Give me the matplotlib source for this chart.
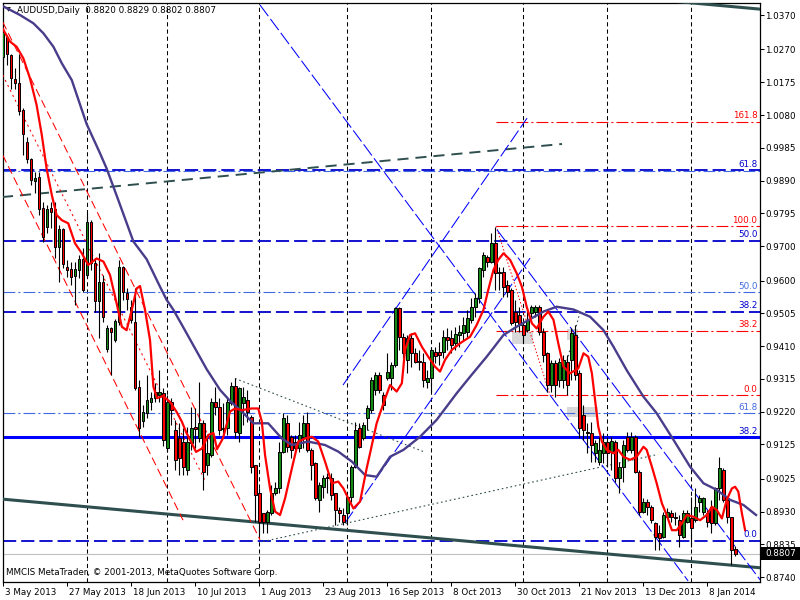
import matplotlib
matplotlib.use("Agg")
import matplotlib.pyplot as plt
from matplotlib.patches import Rectangle
import matplotlib.transforms as mtransforms

plt.rcParams['font.family'] = ['DejaVu Sans']
plt.rcParams['lines.scale_dashes'] = False

# ---------------- data ----------------
title_text = "AUDUSD,Daily  0.8820 0.8829 0.8802 0.8807"
copyright_text = "MMCIS MetaTrader, \u00a9 2001-2013, MetaQuotes Software Corp."
last_price = 0.8807

date_labels = ["3 May 2013", "27 May 2013", "18 Jun 2013", "10 Jul 2013", "1 Aug 2013",
               "23 Aug 2013", "16 Sep 2013", "8 Oct 2013", "30 Oct 2013", "21 Nov 2013",
               "13 Dec 2013", "8 Jan 2014"]
date_label_bars = [0, 16, 32, 48, 64, 80, 96, 112, 128, 144, 160, 176]
month_start_bars = [21, 41, 64, 86, 107, 130, 151, 172]
price_ticks = [1.0370, 1.0270, 1.0175, 1.0080, 0.9985, 0.9890, 0.9795, 0.9700, 0.9600,
               0.9505, 0.9410, 0.9315, 0.9220, 0.9125, 0.9025, 0.8930, 0.8835, 0.8740]

opens = [1.0249, 1.0307, 1.0254, 1.0184, 1.0173, 1.0094, 1.0003, 0.9952, 0.9889, 0.9900,
         0.9810, 0.9756, 0.9810, 0.9807, 0.9698, 0.9749, 0.9640, 0.9633, 0.9614, 0.9631,
         0.9662, 0.9616, 0.9769, 0.9651, 0.9542, 0.9597, 0.9401, 0.9461, 0.9428, 0.9481,
         0.9640, 0.9563, 0.9524, 0.9481, 0.9292, 0.9193, 0.9216, 0.9248, 0.9258, 0.9268,
         0.9274, 0.9114, 0.9248, 0.9167, 0.9143, 0.9133, 0.9051, 0.9128, 0.9176, 0.9142,
         0.9186, 0.9065, 0.9094, 0.9249, 0.9234, 0.9171, 0.9171, 0.9244, 0.9295, 0.9157,
         0.9244, 0.9254, 0.9205, 0.9065, 0.8983, 0.8925, 0.8901, 0.8925, 0.8983, 0.8997,
         0.9104, 0.9186, 0.9147, 0.9133, 0.9113, 0.9147, 0.9186, 0.9109, 0.9070, 0.8964,
         0.9002, 0.9031, 0.9026, 0.8983, 0.8935, 0.8920, 0.8925, 0.8973, 0.9060, 0.9171,
         0.9142, 0.9200, 0.9225, 0.9283, 0.9326, 0.9268, 0.9316, 0.9316, 0.9355, 0.9519,
         0.9437, 0.9370, 0.9432, 0.9389, 0.9367, 0.9365, 0.9307, 0.9316, 0.9394, 0.9394,
         0.9394, 0.9437, 0.9432, 0.9418, 0.9442, 0.9447, 0.9452, 0.9486, 0.9524, 0.9548,
         0.9631, 0.9669, 0.9655, 0.9708, 0.9621, 0.9626, 0.9587, 0.9573, 0.9510, 0.9500,
         0.9471, 0.9457, 0.9505, 0.9510, 0.9524, 0.9452, 0.9389, 0.9297, 0.9360, 0.9312,
         0.9312, 0.9364, 0.9370, 0.9442, 0.9332, 0.9210, 0.9162, 0.9157, 0.9100, 0.9075,
         0.9101, 0.9133, 0.9104, 0.9133, 0.9026, 0.9060, 0.9147, 0.9109, 0.9147, 0.9046,
         0.8930, 0.8959, 0.8944, 0.8896, 0.8867, 0.8857, 0.8915, 0.8927, 0.8915, 0.8905,
         0.8857, 0.8901, 0.8910, 0.8905, 0.8959, 0.8930, 0.8925, 0.8944, 0.8896, 0.8997,
         0.9051, 0.8964, 0.8915, 0.8820]
highs = [1.0329, 1.0312, 1.0257, 1.0216, 1.0257, 1.0100, 1.0016, 0.9955, 0.9915, 0.9915,
         0.9828, 0.9819, 0.9828, 0.9828, 0.9761, 0.9752, 0.9660, 0.9654, 0.9654, 0.9674,
         0.9694, 0.9796, 0.9776, 0.9665, 0.9680, 0.9616, 0.9471, 0.9466, 0.9488, 0.9660,
         0.9642, 0.9577, 0.9544, 0.9577, 0.9312, 0.9239, 0.9326, 0.9277, 0.9303, 0.9341,
         0.9288, 0.9268, 0.9259, 0.9196, 0.9186, 0.9171, 0.9176, 0.9234, 0.9231, 0.9307,
         0.9196, 0.9152, 0.9258, 0.9292, 0.9258, 0.9244, 0.9258, 0.9307, 0.9316, 0.9292,
         0.9292, 0.9283, 0.9210, 0.9065, 0.8997, 0.8925, 0.8935, 0.9007, 0.9017, 0.9133,
         0.9215, 0.9210, 0.9152, 0.9152, 0.9191, 0.9210, 0.9220, 0.9113, 0.9075, 0.9017,
         0.9036, 0.9041, 0.9041, 0.8983, 0.8944, 0.8939, 0.8978, 0.9065, 0.9191, 0.9186,
         0.9191, 0.9239, 0.9321, 0.9336, 0.9336, 0.9278, 0.9389, 0.9365, 0.9524, 0.9524,
         0.9447, 0.9442, 0.9447, 0.9403, 0.9399, 0.9389, 0.9341, 0.9407, 0.9408, 0.9423,
         0.9457, 0.9461, 0.9457, 0.9466, 0.9471, 0.9495, 0.9515, 0.9548, 0.9563, 0.9640,
         0.9684, 0.9674, 0.9737, 0.9756, 0.9640, 0.9640, 0.9602, 0.9577, 0.9544, 0.9524,
         0.9486, 0.9515, 0.9529, 0.9529, 0.9529, 0.9461, 0.9394, 0.9370, 0.9370, 0.9374,
         0.9384, 0.9384, 0.9462, 0.9471, 0.9341, 0.9239, 0.9186, 0.9191, 0.9138, 0.9147,
         0.9157, 0.9147, 0.9147, 0.9138, 0.9075, 0.9138, 0.9162, 0.9162, 0.9152, 0.9051,
         0.8968, 0.8966, 0.8949, 0.8901, 0.8891, 0.8930, 0.8939, 0.8935, 0.8929, 0.8920,
         0.8935, 0.8935, 0.8973, 0.8997, 0.8978, 0.8973, 0.8935, 0.8964, 0.9002, 0.9089,
         0.9055, 0.8968, 0.8915, 0.8829]
lows = [1.0240, 1.0225, 1.0155, 1.0155, 1.0080, 0.9964, 0.9941, 0.9877, 0.9854, 0.9790,
        0.9712, 0.9738, 0.9752, 0.9665, 0.9596, 0.9636, 0.9610, 0.9587, 0.9529, 0.9607,
        0.9567, 0.9607, 0.9631, 0.9509, 0.9433, 0.9480, 0.9393, 0.9326, 0.9423, 0.9471,
        0.9544, 0.9515, 0.9476, 0.9283, 0.9147, 0.9176, 0.9201, 0.9225, 0.9248, 0.9248,
        0.9120, 0.9103, 0.9181, 0.9051, 0.9036, 0.9036, 0.9036, 0.9109, 0.9113, 0.9133,
        0.8993, 0.9036, 0.9089, 0.9210, 0.9152, 0.9152, 0.9152, 0.9239, 0.9142, 0.9133,
        0.9181, 0.9191, 0.9041, 0.8901, 0.8862, 0.8867, 0.8867, 0.8920, 0.8978, 0.8983,
        0.9099, 0.9104, 0.9084, 0.9104, 0.9104, 0.9113, 0.9104, 0.9022, 0.8964, 0.8930,
        0.8968, 0.8983, 0.8964, 0.8891, 0.8901, 0.8891, 0.8891, 0.8959, 0.9055, 0.9113,
        0.9138, 0.9167, 0.9215, 0.9268, 0.9274, 0.9225, 0.9312, 0.9283, 0.9350, 0.9399,
        0.9374, 0.9331, 0.9350, 0.9360, 0.9341, 0.9292, 0.9287, 0.9278, 0.9360, 0.9355,
        0.9374, 0.9399, 0.9389, 0.9399, 0.9408, 0.9428, 0.9437, 0.9476, 0.9495, 0.9534,
        0.9611, 0.9640, 0.9650, 0.9573, 0.9573, 0.9553, 0.9553, 0.9471, 0.9452, 0.9452,
        0.9418, 0.9452, 0.9495, 0.9495, 0.9442, 0.9365, 0.9278, 0.9278, 0.9263, 0.9292,
        0.9288, 0.9268, 0.9312, 0.9312, 0.9143, 0.9138, 0.9099, 0.9075, 0.9075, 0.9065,
        0.9070, 0.9060, 0.9051, 0.9017, 0.8983, 0.9017, 0.9104, 0.9099, 0.9041, 0.8920,
        0.8925, 0.8920, 0.8896, 0.8818, 0.8818, 0.8852, 0.8910, 0.8901, 0.8891, 0.8828,
        0.8852, 0.8896, 0.8828, 0.8901, 0.8930, 0.8920, 0.8886, 0.8867, 0.8891, 0.8964,
        0.8958, 0.8896, 0.8775, 0.8802]
closes = [1.0322, 1.0256, 1.0186, 1.0173, 1.0092, 1.0025, 0.9952, 0.9891, 0.9896, 0.9807,
          0.9727, 0.9807, 0.9799, 0.9698, 0.9749, 0.9647, 0.9631, 0.9611, 0.9633, 0.9662,
          0.9573, 0.9769, 0.9651, 0.9542, 0.9597, 0.9495, 0.9463, 0.9452, 0.9483, 0.9640,
          0.9568, 0.9546, 0.9486, 0.9287, 0.9171, 0.9220, 0.9254, 0.9259, 0.9278, 0.9277,
          0.9138, 0.9248, 0.9225, 0.9080, 0.9086, 0.9060, 0.9133, 0.9173, 0.9169, 0.9186,
          0.9046, 0.9099, 0.9249, 0.9234, 0.9167, 0.9169, 0.9249, 0.9295, 0.9162, 0.9287,
          0.9263, 0.9220, 0.9060, 0.8978, 0.8901, 0.8901, 0.8930, 0.8983, 0.8997, 0.9104,
          0.9200, 0.9118, 0.9109, 0.9113, 0.9152, 0.9186, 0.9109, 0.9065, 0.8968, 0.9007,
          0.9026, 0.9026, 0.8978, 0.8935, 0.8925, 0.8901, 0.8973, 0.9060, 0.9167, 0.9118,
          0.9181, 0.9229, 0.9312, 0.9326, 0.9283, 0.9239, 0.9334, 0.9355, 0.9519, 0.9437,
          0.9389, 0.9432, 0.9389, 0.9365, 0.9364, 0.9312, 0.9316, 0.9399, 0.9382, 0.9384,
          0.9437, 0.9428, 0.9413, 0.9445, 0.9452, 0.9471, 0.9490, 0.9524, 0.9548, 0.9635,
          0.9674, 0.9655, 0.9708, 0.9621, 0.9626, 0.9582, 0.9568, 0.9476, 0.9481, 0.9471,
          0.9442, 0.9486, 0.9524, 0.9524, 0.9452, 0.9384, 0.9297, 0.9360, 0.9297, 0.9365,
          0.9370, 0.9297, 0.9448, 0.9326, 0.9172, 0.9167, 0.9157, 0.9123, 0.9129, 0.9109,
          0.9133, 0.9099, 0.9136, 0.9026, 0.9060, 0.9123, 0.9109, 0.9147, 0.9046, 0.8930,
          0.8959, 0.8944, 0.8905, 0.8857, 0.8852, 0.8920, 0.8930, 0.8915, 0.8911, 0.8862,
          0.8925, 0.8925, 0.8881, 0.8944, 0.8968, 0.8968, 0.8901, 0.8896, 0.8997, 0.9055,
          0.8964, 0.8915, 0.8818, 0.8807]

# fast moving average (red), drawn shifted forward as in the terminal
red_ma_bar = [-0.1, 1.75, 3.4, 5.1, 6.75, 8.4, 9.7, 10.9, 12.2, 13.4, 14.7, 16.3, 18.0, 19.7,
              21.3, 23.4, 25.1, 26.75, 28.4, 29.7, 30.9, 32.2, 33.4, 34.25, 35.5, 36.75, 37.6,
              38.5, 40.0, 41.75, 43.4, 44.7, 45.9, 47.2, 48.25, 49.75, 51.3, 52.6, 53.5, 55.0,
              56.75, 58.0, 59.7, 62.2, 63.8, 64.7, 65.5, 66.75, 68.0, 69.25, 70.5, 72.2, 73.8,
              75.5, 77.2, 78.8, 80.5, 82.2, 83.8, 85.1, 86.3, 87.6, 89.25, 90.9, 91.75, 93.4,
              95.1, 96.75, 98.4, 99.7, 100.5, 101.75, 103.0, 104.7, 106.3, 108.0, 109.25,
              110.5, 112.2, 114.25, 116.75, 118.4, 120.1, 121.3, 122.6, 123.8, 125.1, 126.75,
              128.4, 129.7, 130.9, 132.2, 133.4, 135.1, 136.3, 137.6, 138.8, 140.1, 141.75,
              143.8, 145.1, 146.3, 147.2, 148.0, 148.8, 149.7, 150.9, 152.6, 153.8, 155.1,
              156.75, 158.4, 160.1, 160.9, 162.2, 163.4, 164.7, 165.9, 167.2, 168.4, 169.7,
              170.9, 172.6, 174.25, 175.9, 177.2, 178.4, 179.7, 180.9, 182.2, 183.0, 183.8,
              184.7, 185.5]
red_ma_val = [1.0331, 1.0293, 1.0278, 1.0244, 1.0186, 1.0109, 1.0022, 0.9925, 0.9848, 0.9790,
              0.9775, 0.9766, 0.9708, 0.9679, 0.9645, 0.9664, 0.9655, 0.9616, 0.9534, 0.9466,
              0.9456, 0.9515, 0.9577, 0.9584, 0.9515, 0.9427, 0.9292, 0.9259, 0.9265, 0.9248,
              0.9219, 0.9191, 0.9157, 0.9128, 0.9103, 0.9113, 0.9152, 0.9158, 0.9111, 0.9143,
              0.9220, 0.9229, 0.9224, 0.9229, 0.9229, 0.9191, 0.9094, 0.8997, 0.8930, 0.8920,
              0.8968, 0.9055, 0.9133, 0.9142, 0.9147, 0.9133, 0.9075, 0.9012, 0.9017, 0.8997,
              0.8968, 0.8939, 0.8959, 0.9055, 0.9099, 0.9186, 0.9244, 0.9297, 0.9278, 0.9302,
              0.9399, 0.9442, 0.9447, 0.9408, 0.9379, 0.9350, 0.9336, 0.9370, 0.9399, 0.9418,
              0.9437, 0.9471, 0.9515, 0.9573, 0.9631, 0.9660, 0.9679, 0.9660, 0.9621, 0.9582,
              0.9524, 0.9476, 0.9461, 0.9495, 0.9510, 0.9486, 0.9418, 0.9350, 0.9331, 0.9345,
              0.9389, 0.9379, 0.9331, 0.9254, 0.9176, 0.9133, 0.9109, 0.9099, 0.9109, 0.9089,
              0.9080, 0.9089, 0.9118, 0.9109, 0.9060, 0.9012, 0.8954, 0.8920, 0.8876, 0.8876,
              0.8896, 0.8920, 0.8915, 0.8905, 0.8920, 0.8944, 0.8935, 0.8910, 0.8964, 0.8997,
              0.9002, 0.8988, 0.8925, 0.8876]

# slow moving average (dark slate blue), shifted forward
slow_ma_bar = [-0.1, 4.25, 7.6, 10.1, 12.6, 14.7, 17.2, 20.9, 24.25, 25.9, 28.8, 32.6, 35.9,
               39.25, 40.9, 42.6, 45.9, 50.9, 54.25, 56.75, 59.7, 62.6, 66.3, 69.7, 72.2, 76.3,
               80.5, 83.8, 87.2, 90.5, 93.4, 96.75, 100.1, 104.25, 108.4, 113.4, 116.75, 120.9,
               125.1, 128.4, 131.75, 135.1, 138.4, 142.6, 146.75, 150.1, 152.6, 155.9, 160.1,
               163.4, 167.6, 171.75, 175.1, 178.4, 181.75, 185.1, 188.25]
slow_ma_val = [1.0396, 1.0370, 1.0346, 1.0317, 1.0278, 1.0230, 1.0181, 1.0054, 0.9969, 0.9925,
               0.9834, 0.9713, 0.9662, 0.9582, 0.9544, 0.9515, 0.9447, 0.9343, 0.9283, 0.9251,
               0.9220, 0.9186, 0.9186, 0.9142, 0.9123, 0.9133, 0.9123, 0.9104, 0.9075, 0.9036,
               0.9031, 0.9089, 0.9109, 0.9147, 0.9196, 0.9273, 0.9321, 0.9379, 0.9442, 0.9466,
               0.9488, 0.9510, 0.9524, 0.9516, 0.9495, 0.9456, 0.9408, 0.9340, 0.9263, 0.9215,
               0.9138, 0.9060, 0.9012, 0.8993, 0.8964, 0.8949, 0.8920]

# Fibonacci retracement levels
fib_red_start_bar = 123.25
fib_red_levels = ["0.0", "38.2", "100.0", "161.8"]
fib_red_prices = [0.9268, 0.9455, 0.9758, 1.0061]
fib_red_trend = ([123.25, 136.75], [0.9758, 0.9268])
fib_blue_levels = ["0.0", "38.2", "50.0", "61.8"]
fib_blue_prices = [0.8845, 0.9510, 0.9715, 0.9920]
fib_light_levels = ["", "50.0", "61.8"]
fib_light_prices = [0.9918, 0.9567, 0.9216]
support_level = ("38.2", 0.9146)

# trend lines: (bar0, bar1), (price0, price1)
channel_low = ([-0.075, 189.25], [0.8966, 0.8767])
channel_high = ([160.0, 189.25], [1.0418, 1.0387])
long_dashed = ([-0.25, 139.75], [0.9842, 0.9996])
dotted_lines = [([58.0, 105.1], [0.9316, 0.9104]),
                ([65.0, 163.0], [0.8843, 0.9094]),
                ([144.25, 139.7], [0.9509, 0.9312])]
blue_diag = [([64.25, 171.25], [1.0399, 0.8729]),
             ([85.0, 131.0], [0.9297, 1.0071]),
             ([85.5, 131.75], [0.8897, 0.9665]),
             ([123.5, 189.25], [0.9747, 0.8732])]
red_diag = [([-0.075, 45.0], [0.9964, 0.8905]),
            ([-0.075, 64.25], [1.0350, 0.8848])]
red_dotted = [([-0.075, 50.5], [1.0196, 0.9020])]
grey_boxes = [(127.2, 132.6, 0.9417, 0.9452),
              (140.9, 143.8, 0.9427, 0.9458),
              (140.9, 148.8, 0.9205, 0.9234)]

# ---------------- figure ----------------
W, H = 800, 600
fig = plt.figure(figsize=(8, 6), dpi=100)
L, R, T, B = 2.7, 759.5, 2.7, 581.5
ax = fig.add_axes([L / W, (H - B) / H, (R - L) / W, (B - T) / H])
ymin, ymax = 0.87272, 1.04057
ax.set_xlim(-0.075, 189.1)
ax.set_ylim(ymin, ymax)

FS = 6.3
blue_dark = "#0000CD"
blue_light = "#4169E1"
slate = "#2F4F4F"

# vertical grid
for b in month_start_bars:
    ax.axvline(b, color="black", lw=0.75, dashes=(3, 2.2), zorder=1)

# grey boxes
for x0, x1, p0, p1 in grey_boxes:
    ax.add_patch(Rectangle((x0, p0), x1 - x0, p1 - p0, facecolor="#D8D8D8",
                           edgecolor="none", zorder=0.5))

# horizontal fib lines
for p in fib_blue_prices:
    ax.axhline(p, color=blue_dark, lw=1.3, dashes=(9.5, 3.6), zorder=2)
for p in fib_light_prices:
    ax.axhline(p, color=blue_light, lw=0.8, dashes=(8.5, 2.2, 1.5, 2.2), zorder=2)
for p in fib_red_prices:
    ax.plot([fib_red_start_bar, 189.5], [p, p], color="red", lw=0.8,
            dashes=(8.5, 2.2, 1.5, 2.2), zorder=2)
ax.plot(*fib_red_trend, color="red", lw=0.75, dashes=(1, 1.5), zorder=2)
ax.axhline(support_level[1], color="#0000FF", lw=2.2, zorder=2)
ax.axhline(last_price, color="#C0C0C0", lw=0.8, zorder=1.5)

# trend lines
ax.plot(*channel_low, color=slate, lw=2.2, zorder=3)
ax.plot(*channel_high, color=slate, lw=2.2, zorder=3)
ax.plot(*long_dashed, color=slate, lw=1.4, dashes=(8, 5), zorder=3)
for xs_, ys_ in dotted_lines:
    ax.plot(xs_, ys_, color=slate, lw=0.8, dashes=(1.2, 2.0), zorder=3)
for xs_, ys_ in blue_diag:
    ax.plot(xs_, ys_, color="#0000FF", lw=0.75, dashes=(10, 2.5), zorder=3)
for xs_, ys_ in red_diag:
    ax.plot(xs_, ys_, color="red", lw=0.75, dashes=(6, 3), zorder=3)
for xs_, ys_ in red_dotted:
    ax.plot(xs_, ys_, color="red", lw=0.75, dashes=(1.5, 2.5), zorder=3)

# candles
n = len(opens)
xs = list(range(n))
ax.vlines(xs, lows, highs, color="black", lw=0.8, zorder=4)
bottoms = [min(o, c) for o, c in zip(opens, closes)]
heights = [max(abs(c - o), 0.00012) for o, c in zip(opens, closes)]
colors = ["#138A13" if c >= o else "#FF0000" for o, c in zip(opens, closes)]
ax.bar(xs, heights, bottom=bottoms, width=0.74, color=colors, edgecolor="black",
       linewidth=0.7, zorder=5)

# moving averages
ax.plot(slow_ma_bar, slow_ma_val, color="#483D8B", lw=1.7, zorder=6)
ax.plot(red_ma_bar, red_ma_val, color="#FF0000", lw=1.6, zorder=7)

# level labels
xr = 188.6
for lab, p in zip(fib_red_levels, fib_red_prices):
    ax.text(xr, p + 0.0004, lab, color="red", fontsize=FS, ha="right", va="bottom", zorder=8)
for lab, p in zip(fib_blue_levels, fib_blue_prices):
    ax.text(xr, p + 0.0004, lab, color=blue_dark, fontsize=FS, ha="right", va="bottom", zorder=8)
for lab, p in zip(fib_light_levels, fib_light_prices):
    if lab:
        ax.text(xr, p + 0.0004, lab, color=blue_light, fontsize=FS, ha="right", va="bottom", zorder=8)
ax.text(xr, support_level[1] + 0.0004, support_level[0], color=blue_dark, fontsize=FS,
        ha="right", va="bottom", zorder=8)

# axes styling
for s in ax.spines.values():
    s.set_color("black")
    s.set_linewidth(0.9)
ax.yaxis.tick_right()
ax.set_yticks(price_ticks)
ax.set_yticklabels([f"{p:.4f}" for p in price_ticks], fontsize=FS)
ax.tick_params(axis="y", length=3, width=0.75, pad=1.2, colors="black")
ax.set_xticks(date_label_bars)
ax.set_xticklabels(date_labels, fontsize=FS)
ax.tick_params(axis="x", length=3, width=0.75, pad=2, colors="black")
offset = mtransforms.ScaledTranslation(2 / 100, 0, fig.dpi_scale_trans)
for lbl in ax.get_xticklabels():
    lbl.set_horizontalalignment("left")
    lbl.set_transform(lbl.get_transform() + offset)

# title & copyright
ax.text(0.004, 0.992, "\u25BC", transform=ax.transAxes, fontsize=4.5, va="top", ha="left")
ax.text(0.019, 0.994, title_text, transform=ax.transAxes, fontsize=FS, va="top", ha="left")
ax.text(0.005, 0.008, copyright_text, transform=ax.transAxes, fontsize=FS, va="bottom", ha="left")

# last price box
yf = (H - B) / H + (last_price - ymin) / (ymax - ymin) * (B - T) / H
fig.patches.append(Rectangle((R / W, yf - 6.5 / H), (W - R) / W, 13 / H, facecolor="black",
                             edgecolor="none", transform=fig.transFigure, figure=fig))
fig.text(765 / W, yf, f"{last_price:.4f}", color="white", fontsize=FS, va="center", ha="left")

fig.savefig("out.png", dpi=100)
